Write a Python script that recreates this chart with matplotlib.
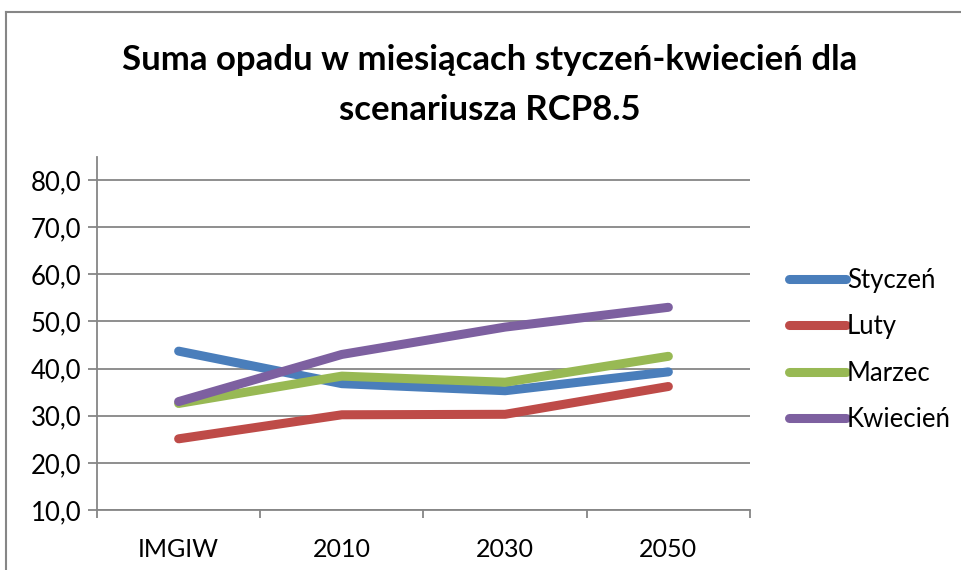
import matplotlib
matplotlib.use("Agg")
import matplotlib.pyplot as plt
from matplotlib.lines import Line2D
import numpy as np

plt.rcParams['font.family'] = ['Lato', 'DejaVu Sans']

categories = ["IMGIW", "2010", "2030", "2050"]
styczen = [43.7, 36.8, 35.3, 39.3]
luty = [25.1, 30.2, 30.3, 36.2]
marzec = [32.6, 38.4, 37.1, 42.6]
kwiecien = [33.0, 43.0, 48.8, 53.0]
series_names = ["Styczeń", "Luty", "Marzec", "Kwiecień"]
colors = ["#4A7EBB", "#BE4B48", "#98B954", "#7D60A0"]
yticks = [10, 20, 30, 40, 50, 60, 70, 80]

title = "Suma opadu w miesiącach styczeń-kwiecień dla\nscenariusza RCP8.5"

W, H = 962, 570
fig = plt.figure(figsize=(W / 100, H / 100), dpi=100)

# chart frame (only left and top edges fall inside the image)
grey = "#868686"
fig.add_artist(Line2D([6 / W, 6 / W], [0, 1 - 12 / H], transform=fig.transFigure,
                      color=grey, lw=1.5))
fig.add_artist(Line2D([6 / W, 1], [1 - 12 / H, 1 - 12 / H], transform=fig.transFigure,
                      color=grey, lw=1.5))

fig.text(490 / W, 1 - 85 / H, title, ha="center", va="center", fontsize=25,
         fontweight="bold", linespacing=1.72)

left, right, top, bottom = 97, 750, 157, 510
ax = fig.add_axes([left / W, 1 - bottom / H, (right - left) / W, (bottom - top) / H])

x = np.arange(len(categories))
for vals, name, c in zip([styczen, luty, marzec, kwiecien], series_names, colors):
    ax.plot(x, vals, color=c, lw=6.5, solid_capstyle="round", solid_joinstyle="round",
            label=name)

fs = 18.5
ax.set_xlim(-0.5, len(categories) - 0.5)
ax.set_ylim(10, 80 + (180 - 157) / 4.71)
ax.set_yticks(yticks)
ax.set_yticklabels([f"{v:.1f}".replace(".", ",") for v in yticks], fontsize=fs)
ax.yaxis.grid(True, color=grey, lw=1.3)
ax.set_axisbelow(True)

ax.set_xticks(x)
ax.set_xticklabels(categories, fontsize=18)
ax.set_xticks(np.arange(-0.5, len(categories)), minor=True)
ax.tick_params(axis="x", which="major", length=0, pad=20)
ax.tick_params(axis="x", which="minor", length=6, width=1.3, color=grey, direction="out")
ax.tick_params(axis="y", length=6.5, width=1.3, color=grey, pad=5)

for s in ["top", "right"]:
    ax.spines[s].set_visible(False)
for s in ["left", "bottom"]:
    ax.spines[s].set_color(grey)
    ax.spines[s].set_linewidth(1.3)

leg = ax.legend(loc="center left", bbox_to_anchor=(789 / W, 1 - 350 / H),
                bbox_transform=fig.transFigure, frameon=False, fontsize=fs,
                handlelength=2.2, handletextpad=0.05, labelspacing=0.82,
                borderpad=0, borderaxespad=0)

fig.savefig("out.png", dpi=100, facecolor="white")
